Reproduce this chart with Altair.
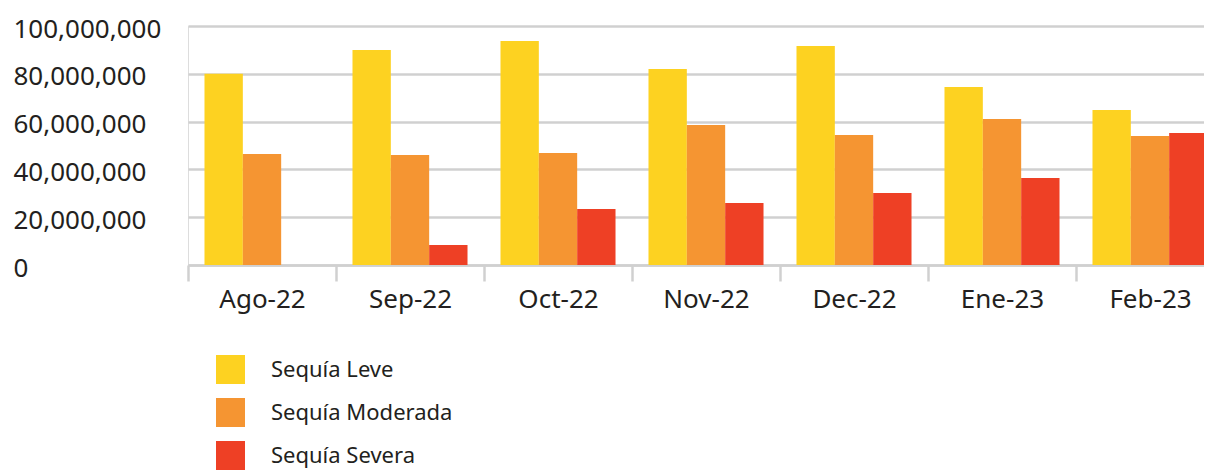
import altair as alt
import pandas as pd

months = ["Ago-22", "Sep-22", "Oct-22", "Nov-22", "Dec-22", "Ene-23", "Feb-23"]
series = ["Sequía Leve", "Sequía Moderada", "Sequía Severa"]
leve = [80000000, 90000000, 93700000, 82000000, 91600000, 74500000, 64900000]
moderada = [46400000, 46000000, 46900000, 58600000, 54400000, 61100000, 54000000]
severa = [0, 8400000, 23400000, 25900000, 30100000, 36400000, 55200000]
colors = ["#FDD221", "#F59532", "#EE4025"]

rows = []
for vals, s in zip([leve, moderada, severa], series):
    for m, v in zip(months, vals):
        rows.append({"mes": m, "serie": s, "valor": v})
df = pd.DataFrame(rows)

FONT = "Noto Sans"
TXT = "#231F20"
GRID = "#D0D0D0"

chart = (
    alt.Chart(df)
    .mark_bar()
    .encode(
        x=alt.X(
            "mes:N",
            sort=months,
            title=None,
            scale=alt.Scale(paddingInner=0, paddingOuter=0, range=[0, 1036]),
            axis=alt.Axis(
                labelAngle=0,
                labelFont=FONT,
                labelFontSize=26,
                labelColor=TXT,
                labelPadding=5,
                tickSize=16,
                tickColor=GRID,
                tickWidth=2.5,
                tickBand="extent",
                domainColor=GRID,
                domainWidth=2.5,
                grid=False,
            ),
        ),
        xOffset=alt.XOffset(
            "serie:N", sort=series, scale=alt.Scale(paddingInner=0, paddingOuter=0.43)
        ),
        y=alt.Y(
            "valor:Q",
            title=None,
            scale=alt.Scale(domain=[0, 100000000], nice=False),
            axis=alt.Axis(
                values=[0, 20000000, 40000000, 60000000, 80000000, 100000000],
                format=",d",
                labelFont=FONT,
                labelFontSize=26,
                labelColor=TXT,
                labelAlign="left",
                labelPadding=175,
                labelOffset=3,
                ticks=False,
                tickSize=0,
                domain=False,
                grid=True,
                gridColor=GRID,
                gridWidth=2.5,
            ),
        ),
        color=alt.Color(
            "serie:N",
            sort=series,
            scale=alt.Scale(domain=series, range=colors),
            legend=alt.Legend(
                title=None,
                orient="none",
                legendX=28,
                legendY=329,
                direction="vertical",
                symbolType="square",
                symbolSize=841,
                symbolStrokeWidth=0,
                symbolOpacity=1,
                labelFont=FONT,
                labelFontSize=22,
                labelColor=TXT,
                labelOffset=26,
                labelLimit=500,
                rowPadding=14,
            ),
        ),
    )
    .properties(
        width=1016,
        height=239,
        autosize=alt.AutoSizeParams(type="none"),
        padding={"left": 180, "top": 18, "right": 0, "bottom": 205},
    )
    .configure_view(stroke=None)
    .configure(background="white")
)

chart.save("out.html", embed_options={"renderer": "svg", "actions": False})
